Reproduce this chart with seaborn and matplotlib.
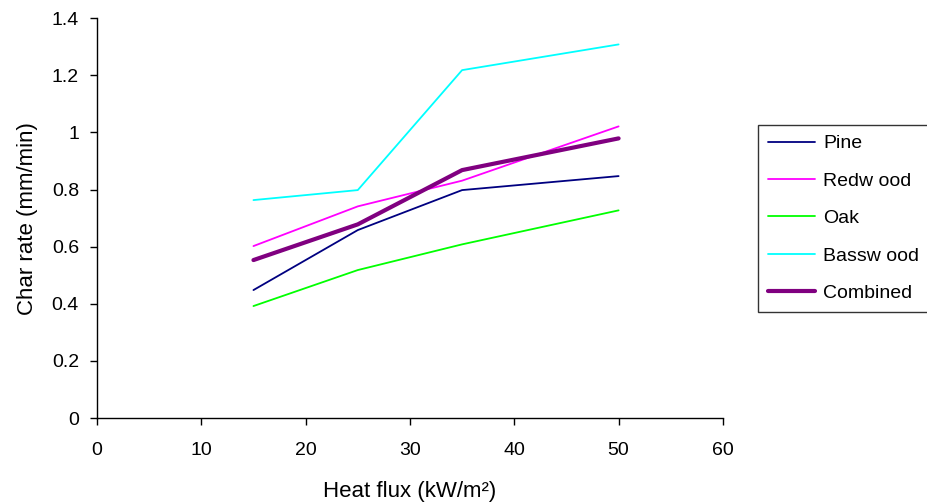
import pandas as pd
import matplotlib.pyplot as plt
import seaborn as sns
from matplotlib.ticker import FuncFormatter

sns.set_style("white")
plt.rcParams['font.family'] = ['Liberation Sans', 'DejaVu Sans']
plt.rcParams['text.color'] = 'black'
plt.rcParams['axes.labelcolor'] = 'black'
plt.rcParams['xtick.color'] = 'black'
plt.rcParams['ytick.color'] = 'black'

# Data
heat_flux = [15, 25, 35, 50]
pine = [0.448, 0.658, 0.798, 0.847]
redwood = [0.602, 0.741, 0.831, 1.021]
oak = [0.392, 0.518, 0.608, 0.727]
basswood = [0.763, 0.798, 1.218, 1.308]
combined = [0.553, 0.678, 0.868, 0.979]

series = [
    ("Pine", pine, "#000080", 1.3),
    ("Redw ood", redwood, "#FF00FF", 1.3),
    ("Oak", oak, "#00FF00", 1.3),
    ("Bassw ood", basswood, "#00FFFF", 1.3),
    ("Combined", combined, "#800080", 3.0),
]

fig = plt.figure(figsize=(9.28, 5.04), dpi=100)
ax = fig.add_axes([0.1045, 0.1706, 0.6745, 0.7934])

for name, vals, color, lw in series:
    df = pd.DataFrame({"x": heat_flux, "y": vals})
    sns.lineplot(data=df, x="x", y="y", ax=ax, color=color, linewidth=lw, label=name)

ax.set_xlim(0, 60)
ax.set_ylim(0, 1.4)
ax.set_xticks(range(0, 61, 10))
ax.set_yticks([0, 0.2, 0.4, 0.6, 0.8, 1.0, 1.2, 1.4])
ax.yaxis.set_major_formatter(FuncFormatter(lambda v, p: "%g" % round(v, 1)))
ax.tick_params(axis="both", direction="out", length=5, width=1, color="black",
               labelsize=14, labelcolor="black", left=True, bottom=True)
ax.tick_params(axis="x", pad=12)
ax.tick_params(axis="y", pad=8)

for s in ["top", "right"]:
    ax.spines[s].set_visible(False)
for s in ["left", "bottom"]:
    ax.spines[s].set_color("black")
    ax.spines[s].set_linewidth(1)

ax.set_xlabel("Heat flux (kW/m\u00b2)", fontsize=16, labelpad=16)
ax.set_ylabel("Char rate (mm/min)", fontsize=16, labelpad=10)

handles, labels = ax.get_legend_handles_labels()
ax.get_legend().remove()
leg = fig.legend(handles, labels, loc="upper left", bbox_to_anchor=(0.817, 0.752),
                 fontsize=14, frameon=True, fancybox=False, shadow=False,
                 borderpad=0.5, labelspacing=1.02, handlelength=2.4, handletextpad=0.45,
                 borderaxespad=0)
leg.get_frame().set_edgecolor("black")
leg.get_frame().set_linewidth(1)

fig.savefig("out.png", dpi=100)
